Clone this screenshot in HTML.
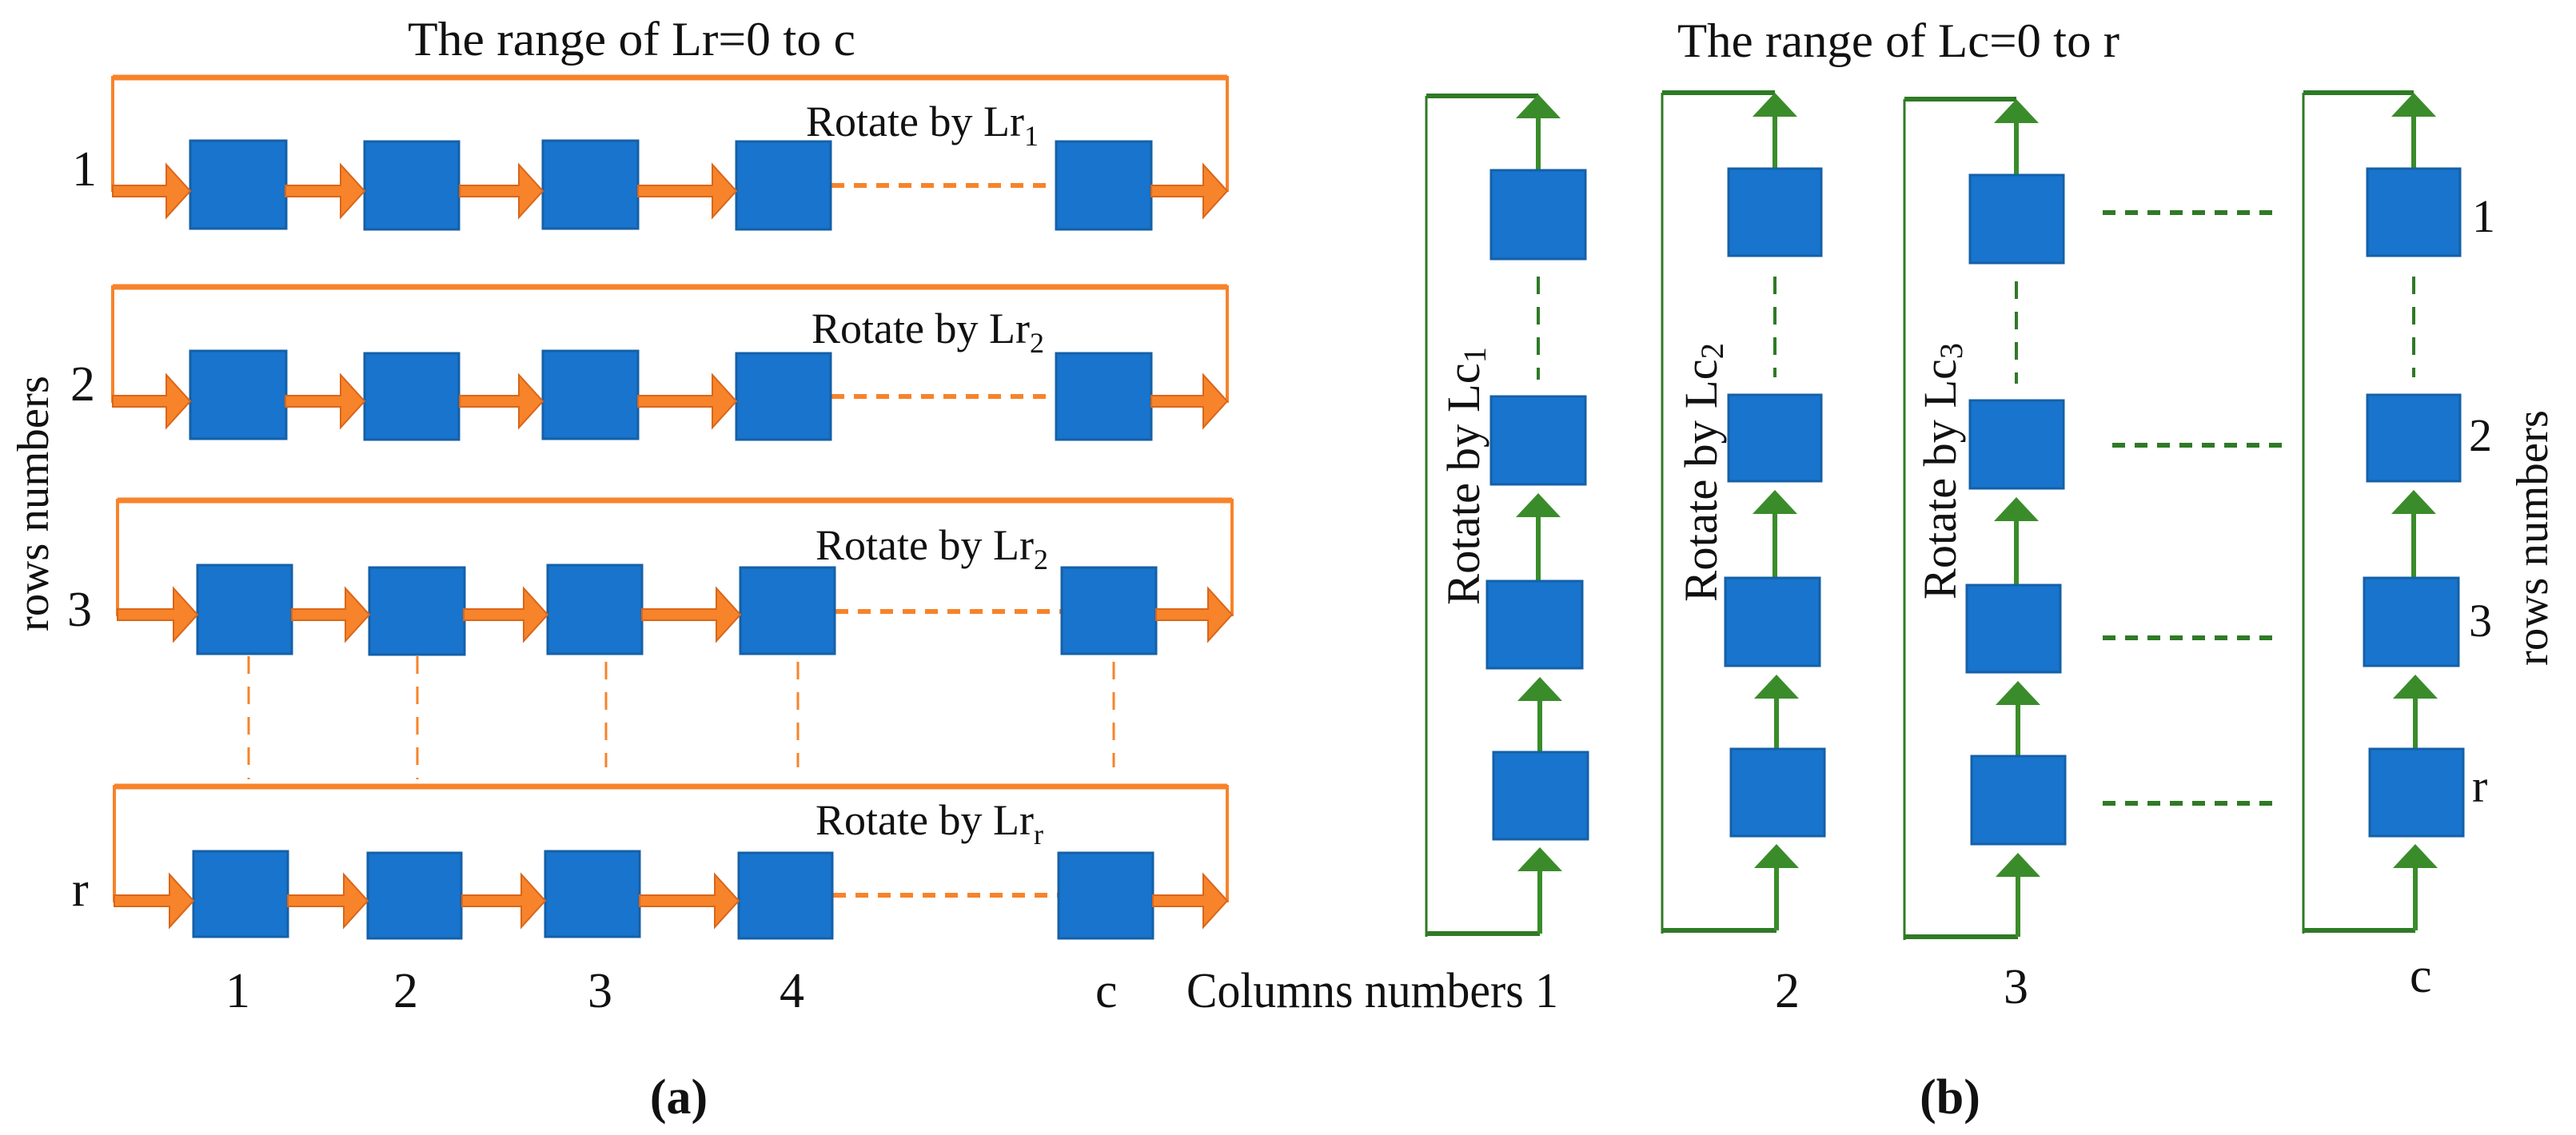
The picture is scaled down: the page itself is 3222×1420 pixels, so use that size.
<!DOCTYPE html>
<html><head><meta charset="utf-8"><style>
html,body{margin:0;padding:0;background:#fff;}
svg{display:block;}
text{font-family:"Liberation Serif",serif;fill:#111;}
</style></head><body>
<svg width="3222" height="1420" viewBox="0 0 3222 1420" xmlns="http://www.w3.org/2000/svg">
<text x="510" y="69" font-size="60" textLength="560" lengthAdjust="spacingAndGlyphs">The range of Lr=0 to c</text>
<text x="2098" y="71" font-size="60" textLength="553" lengthAdjust="spacingAndGlyphs">The range of Lc=0 to r</text>

<g fill="none" stroke="#F7832A">
<path d="M141,240 V97 H1535 V240" stroke-width="4"/>
<path d="M141,504 V359 H1535 V504" stroke-width="4"/>
<path d="M147,771 V626 H1541 V771" stroke-width="4"/>
<path d="M143,1129 V984 H1535 V1129" stroke-width="4"/>
<line x1="141" y1="97" x2="1535" y2="97" stroke-width="7"/>
<line x1="141" y1="359" x2="1535" y2="359" stroke-width="7"/>
<line x1="147" y1="626" x2="1541" y2="626" stroke-width="7"/>
<line x1="143" y1="984" x2="1535" y2="984" stroke-width="7"/>
</g>
<g stroke="#F7832A" stroke-width="6" stroke-dasharray="16,12">
<line x1="1040" y1="232" x2="1321" y2="232"/>
<line x1="1040" y1="496" x2="1321" y2="496"/>
<line x1="1045" y1="765" x2="1328" y2="765"/>
<line x1="1042" y1="1120" x2="1324" y2="1120"/>
</g>
<g stroke="#F7832A" stroke-width="3" stroke-dasharray="22,16">
<line x1="311" y1="821" x2="311" y2="975"/>
<line x1="522" y1="821" x2="522" y2="975"/>
<line x1="758" y1="828" x2="758" y2="960"/>
<line x1="998" y1="828" x2="998" y2="960"/>
<line x1="1393" y1="828" x2="1393" y2="960"/>
</g>
<g fill="#1874CC" stroke="#1560A8" stroke-width="3">
<rect x="238" y="176" width="120" height="110"/><rect x="456" y="177" width="118" height="110"/><rect x="679" y="176" width="119" height="110"/><rect x="921" y="177" width="118" height="110"/><rect x="1321" y="177" width="119" height="110"/>
<rect x="238" y="439" width="120" height="110"/><rect x="456" y="442" width="118" height="108"/><rect x="679" y="439" width="119" height="110"/><rect x="921" y="442" width="118" height="108"/><rect x="1321" y="442" width="119" height="108"/>
<rect x="247" y="707" width="118" height="111"/><rect x="462" y="710" width="119" height="109"/><rect x="685" y="707" width="118" height="111"/><rect x="926" y="710" width="118" height="108"/><rect x="1328" y="710" width="118" height="108"/>
<rect x="242" y="1065" width="118" height="107"/><rect x="460" y="1067" width="117" height="107"/><rect x="682" y="1065" width="118" height="107"/><rect x="924" y="1067" width="117" height="107"/><rect x="1324" y="1067" width="118" height="107"/>
</g>
<g fill="#F7832A" stroke="#D9661A" stroke-width="2">
<polygon points="141,232 208,232 208,206 238,239 208,272 208,246 141,246"/>
<polygon points="357,232 426,232 426,206 456,239 426,272 426,246 357,246"/>
<polygon points="575,232 649,232 649,206 679,239 649,272 649,246 575,246"/>
<polygon points="798,232 891,232 891,206 921,239 891,272 891,246 798,246"/>
<polygon points="1440,232 1505,232 1505,206 1535,239 1505,272 1505,246 1440,246"/>

<polygon points="141,495 208,495 208,469 238,502 208,535 208,509 141,509"/>
<polygon points="357,495 426,495 426,469 456,502 426,535 426,509 357,509"/>
<polygon points="575,495 649,495 649,469 679,502 649,535 649,509 575,509"/>
<polygon points="798,495 891,495 891,469 921,502 891,535 891,509 798,509"/>
<polygon points="1440,495 1505,495 1505,469 1535,502 1505,535 1505,509 1440,509"/>

<polygon points="147,762 217,762 217,736 247,769 217,802 217,776 147,776"/>
<polygon points="365,762 432,762 432,736 462,769 432,802 432,776 365,776"/>
<polygon points="580,762 655,762 655,736 685,769 655,802 655,776 580,776"/>
<polygon points="803,762 896,762 896,736 926,769 896,802 896,776 803,776"/>
<polygon points="1446,762 1511,762 1511,736 1541,769 1511,802 1511,776 1446,776"/>

<polygon points="143,1120 212,1120 212,1094 242,1127 212,1160 212,1134 143,1134"/>
<polygon points="360,1120 430,1120 430,1094 460,1127 430,1160 430,1134 360,1134"/>
<polygon points="578,1120 652,1120 652,1094 682,1127 652,1160 652,1134 578,1134"/>
<polygon points="800,1120 894,1120 894,1094 924,1127 894,1160 894,1134 800,1134"/>
<polygon points="1442,1120 1505,1120 1505,1094 1535,1127 1505,1160 1505,1134 1442,1134"/>
</g>
<g font-size="54">
<text x="1008" y="170">Rotate by Lr<tspan font-size="36" dy="12">1</tspan></text>
<text x="1015" y="429">Rotate by Lr<tspan font-size="36" dy="12">2</tspan></text>
<text x="1020" y="700">Rotate by Lr<tspan font-size="36" dy="12">2</tspan></text>
<text x="1020" y="1044">Rotate by Lr<tspan font-size="36" dy="12">r</tspan></text>
</g>
<g font-size="62">
<text x="90" y="232">1</text>
<text x="88" y="501">2</text>
<text x="84" y="783">3</text>
<text x="90" y="1133">r</text>
<text x="282" y="1260">1</text>
<text x="492" y="1260">2</text>
<text x="735" y="1260">3</text>
<text x="975" y="1260">4</text>
<text x="1370" y="1260">c</text>
<text x="1484" y="1260" textLength="465" lengthAdjust="spacingAndGlyphs">Columns numbers  1</text>
<text x="2220" y="1260">2</text>
<text x="2506" y="1255">3</text>
<text x="3014" y="1241">c</text>
</g>
<text transform="translate(60,630) rotate(-90)" font-size="56" text-anchor="middle" textLength="320" lengthAdjust="spacingAndGlyphs">rows numbers</text>
<text transform="translate(3186,673) rotate(-90)" font-size="56" text-anchor="middle" textLength="320" lengthAdjust="spacingAndGlyphs">rows numbers</text>
<text x="849" y="1393" font-size="62" font-weight="bold" text-anchor="middle">(a)</text>
<text x="2439" y="1393" font-size="62" font-weight="bold" text-anchor="middle">(b)</text>

<g fill="none" stroke="#2F7A26">
<line x1="1784" y1="120" x2="1784" y2="1172" stroke-width="3"/>
<line x1="2079" y1="116" x2="2079" y2="1168" stroke-width="3"/>
<line x1="2382" y1="124" x2="2382" y2="1176" stroke-width="3"/>
<line x1="2881" y1="116" x2="2881" y2="1168" stroke-width="3"/>
<g stroke-width="6">
<line x1="1784" y1="120" x2="1924" y2="120"/><line x1="1784" y1="1168" x2="1926" y2="1168"/>
<line x1="2079" y1="116" x2="2220" y2="116"/><line x1="2079" y1="1164" x2="2222" y2="1164"/>
<line x1="2382" y1="124" x2="2522" y2="124"/><line x1="2382" y1="1172" x2="2524" y2="1172"/>
<line x1="2881" y1="116" x2="3019" y2="116"/><line x1="2881" y1="1164" x2="3021" y2="1164"/>
</g>
</g>
<g stroke="#3A8C2A" stroke-width="6">
<line x1="1924" y1="146" x2="1924" y2="213"/><line x1="1924" y1="645" x2="1924" y2="727"/><line x1="1926" y1="875" x2="1926" y2="941"/><line x1="1926" y1="1088" x2="1926" y2="1168"/>
<line x1="2220" y1="144" x2="2220" y2="211"/><line x1="2220" y1="641" x2="2220" y2="723"/><line x1="2222" y1="872" x2="2222" y2="937"/><line x1="2222" y1="1084" x2="2222" y2="1164"/>
<line x1="2522" y1="152" x2="2522" y2="219"/><line x1="2522" y1="650" x2="2522" y2="732"/><line x1="2524" y1="880" x2="2524" y2="946"/><line x1="2524" y1="1095" x2="2524" y2="1172"/>
<line x1="3019" y1="144" x2="3019" y2="211"/><line x1="3019" y1="641" x2="3019" y2="723"/><line x1="3021" y1="872" x2="3021" y2="937"/><line x1="3021" y1="1084" x2="3021" y2="1164"/>
</g>
<g fill="#3A8C2A">
<polygon points="1896,148 1924,118 1952,148"/><polygon points="1896,647 1924,617 1952,647"/><polygon points="1898,877 1926,847 1954,877"/><polygon points="1898,1090 1926,1060 1954,1090"/>
<polygon points="2192,146 2220,116 2248,146"/><polygon points="2192,643 2220,613 2248,643"/><polygon points="2194,874 2222,844 2250,874"/><polygon points="2194,1086 2222,1056 2250,1086"/>
<polygon points="2494,154 2522,124 2550,154"/><polygon points="2494,652 2522,622 2550,652"/><polygon points="2496,882 2524,852 2552,882"/><polygon points="2496,1097 2524,1067 2552,1097"/>
<polygon points="2991,146 3019,116 3047,146"/><polygon points="2991,643 3019,613 3047,643"/><polygon points="2993,874 3021,844 3049,874"/><polygon points="2993,1086 3021,1056 3049,1086"/>
</g>
<g stroke="#2F7A26" stroke-width="4" stroke-dasharray="22,16">
<line x1="1924" y1="346" x2="1924" y2="475"/>
<line x1="2220" y1="346" x2="2220" y2="472"/>
<line x1="2522" y1="352" x2="2522" y2="480"/>
<line x1="3019" y1="346" x2="3019" y2="472"/>
</g>
<g stroke="#2F7A26" stroke-width="6" stroke-dasharray="16,12">
<line x1="2630" y1="266" x2="2852" y2="266"/>
<line x1="2642" y1="557" x2="2863" y2="557"/>
<line x1="2630" y1="798" x2="2852" y2="798"/>
<line x1="2630" y1="1005" x2="2852" y2="1005"/>
</g>
<g fill="#1874CC" stroke="#1560A8" stroke-width="3">
<rect x="1865" y="213" width="118" height="111"/><rect x="1865" y="496" width="118" height="110"/><rect x="1860" y="727" width="119" height="109"/><rect x="1868" y="941" width="118" height="109"/>
<rect x="2162" y="211" width="116" height="109"/><rect x="2162" y="494" width="116" height="108"/><rect x="2158" y="723" width="118" height="110"/><rect x="2165" y="937" width="117" height="109"/>
<rect x="2464" y="219" width="117" height="110"/><rect x="2464" y="501" width="117" height="110"/><rect x="2460" y="732" width="117" height="109"/><rect x="2466" y="946" width="117" height="110"/>
<rect x="2961" y="211" width="116" height="109"/><rect x="2961" y="494" width="116" height="108"/><rect x="2957" y="723" width="118" height="110"/><rect x="2964" y="937" width="117" height="109"/>
</g>
<g font-size="58">
<text transform="translate(1850,757) rotate(-90)" textLength="323" lengthAdjust="spacingAndGlyphs">Rotate by Lc<tspan font-size="40" dy="8">1</tspan></text>
<text transform="translate(2147,753) rotate(-90)" textLength="324" lengthAdjust="spacingAndGlyphs">Rotate by Lc<tspan font-size="40" dy="8">2</tspan></text>
<text transform="translate(2446,750) rotate(-90)" textLength="321" lengthAdjust="spacingAndGlyphs">Rotate by Lc<tspan font-size="40" dy="8">3</tspan></text>
</g>
<g font-size="58">
<text x="3092" y="290">1</text>
<text x="3088" y="564">2</text>
<text x="3088" y="796">3</text>
<text x="3092" y="1003">r</text>
</g>
</svg>
</body></html>
